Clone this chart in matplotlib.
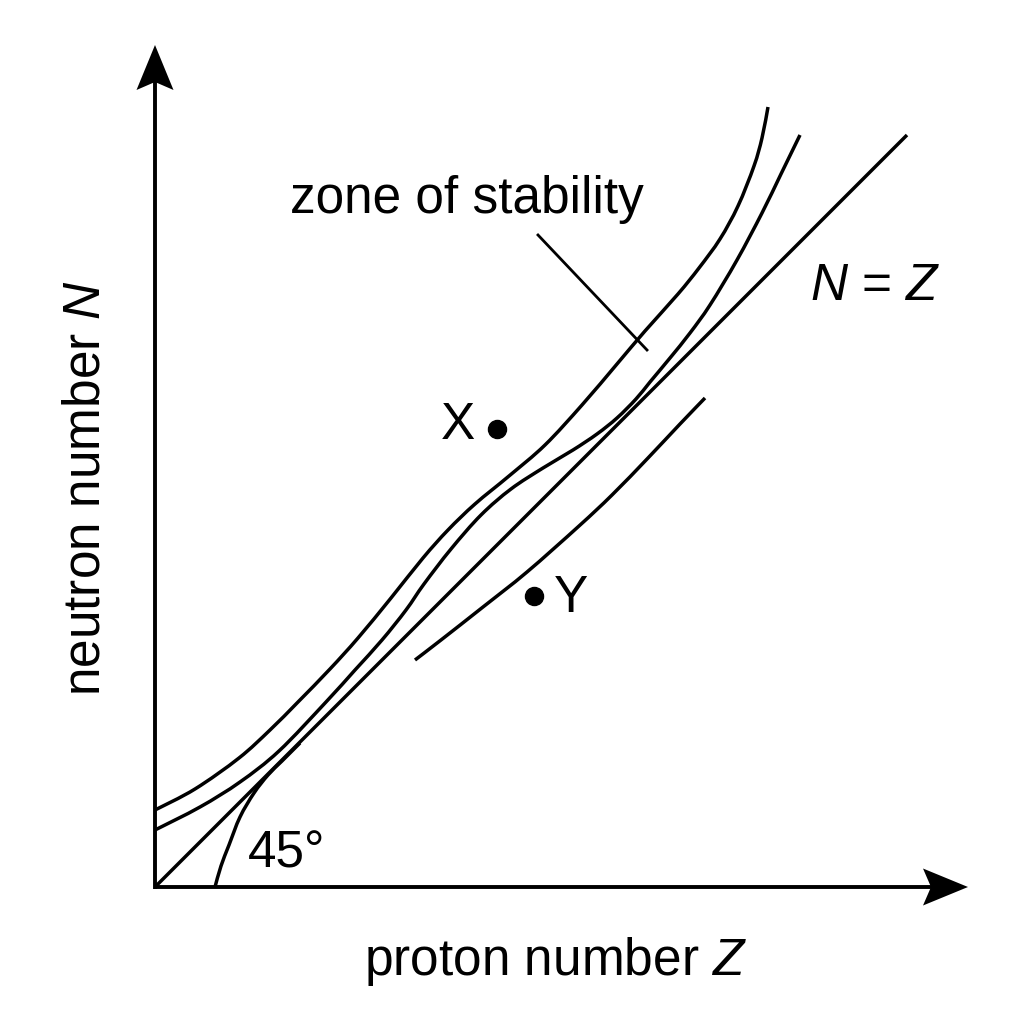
import numpy as np
import matplotlib
matplotlib.use('Agg')
import matplotlib.pyplot as plt
from matplotlib.patches import Polygon, PathPatch
from matplotlib.path import Path

plt.rcParams['font.family'] = ['Liberation Sans', 'DejaVu Sans']
plt.rcParams['mathtext.fontset'] = 'custom'
plt.rcParams['mathtext.rm'] = 'Liberation Sans'
plt.rcParams['mathtext.it'] = 'Liberation Sans:italic'

# curves (proton number Z, neutron number N, arbitrary units)
upper_z = [0, 40, 84, 115, 143, 175, 203, 236, 268, 293, 320, 354, 390, 427,
           462, 490, 523, 544, 565, 583, 599, 607, 613]
upper_n = [77, 98, 129, 157, 185, 218, 249, 289, 329, 357, 383, 411, 442, 482,
           523, 556, 593, 619, 648, 681, 721, 749, 780]

lower_z = [0, 45, 85, 124, 171, 200, 227, 251, 269, 296, 326, 356, 388, 418,
           442, 462, 481, 495, 515, 535, 555, 582, 607, 626, 645]
lower_n = [57, 80, 105, 136, 185, 217, 247, 277, 303, 338, 372, 398, 419, 437,
           453, 469, 488, 505, 529, 554, 582, 627, 674, 713, 752]

steep_z = [60, 66, 74, 85, 99, 113, 127, 145]
steep_n = [0, 21, 42, 70, 94, 112, 126, 144]

below_z = [260, 286, 328, 372, 424, 457, 493, 525, 550]
below_n = [227, 247, 280, 315, 361, 392, 429, 463, 489]

nz_line = [0, 752]
leader_z = [383, 492]
leader_n = [652, 537]

points = {'X': (342, 458), 'Y': (379, 291)}

z_max = 813
n_max = 842

fig = plt.figure(figsize=(10.24, 10.24), dpi=100)
ax = fig.add_axes([0, 0, 1, 1])
ax.set_xlim(-155, 869)
ax.set_ylim(-137, 887)
ax.axis('off')


def arrow_head(ax, tip, d, length=45, half=18.5, notch=8):
    tip = np.array(tip, float)
    d = np.array(d, float)
    p = np.array([-d[1], d[0]])
    pts = [tip, tip - d * length + p * half, tip - d * (length - notch),
           tip - d * length - p * half]
    ax.add_patch(Polygon(pts, closed=True, color='black', lw=0))
    return tip - d * (length - notch - 2)


def smooth_curve(ax, zs, ns, lw=2.5):
    # hand-drawn look: cubic bezier pieces through the read points
    P = np.column_stack([zs, ns]).astype(float)
    verts = [P[0]]
    codes = [Path.MOVETO]
    for i in range(len(P) - 1):
        p0 = P[i - 1] if i > 0 else P[i]
        p3 = P[i + 2] if i + 2 < len(P) else P[i + 1]
        c1 = P[i] + (P[i + 1] - p0) / 6
        c2 = P[i + 1] - (p3 - P[i]) / 6
        verts += [c1, c2, P[i + 1]]
        codes += [Path.CURVE4] * 3
    ax.add_patch(PathPatch(Path(verts, codes), fill=False, ec='black', lw=lw,
                           capstyle='butt', joinstyle='round'))


# axes with arrows
end_y = arrow_head(ax, (0, n_max), (0, 1))
end_x = arrow_head(ax, (z_max, 0), (1, 0))
ax.plot([0, 0], [-1.5, end_y[1]], color='black', lw=2.8, solid_capstyle='butt')
ax.plot([-1.5, end_x[0]], [0, 0], color='black', lw=2.8, solid_capstyle='butt')

smooth_curve(ax, upper_z, upper_n)
smooth_curve(ax, lower_z, lower_n)
smooth_curve(ax, steep_z, steep_n)
smooth_curve(ax, below_z, below_n)
ax.plot(nz_line, nz_line, color='black', lw=2.5, solid_capstyle='butt')
ax.plot(leader_z, leader_n, color='black', lw=2.0)

for name, (z, n) in points.items():
    ax.plot(z, n, 'o', color='black', ms=13)

fs = 37
ax.text(312, 674, 'zone of stability', fontsize=fs, ha='center', va='baseline')
ax.text(655, 587, '$N$ = $Z$', fontsize=fs, ha='left', va='baseline')
ax.text(303, 448, 'X', fontsize=fs, ha='center', va='baseline')
ax.text(416, 275, 'Y', fontsize=fs, ha='center', va='baseline')
ax.text(93, 20, '45°', fontsize=fs, ha='left', va='baseline')
ax.text(401, -88, 'proton number $Z$', fontsize=fs, ha='center', va='baseline')
ax.text(-55, 399, 'neutron number $N$', fontsize=fs, ha='center', va='baseline',
        rotation=90, rotation_mode='anchor')

fig.savefig('out.png', dpi=100, facecolor='white')
